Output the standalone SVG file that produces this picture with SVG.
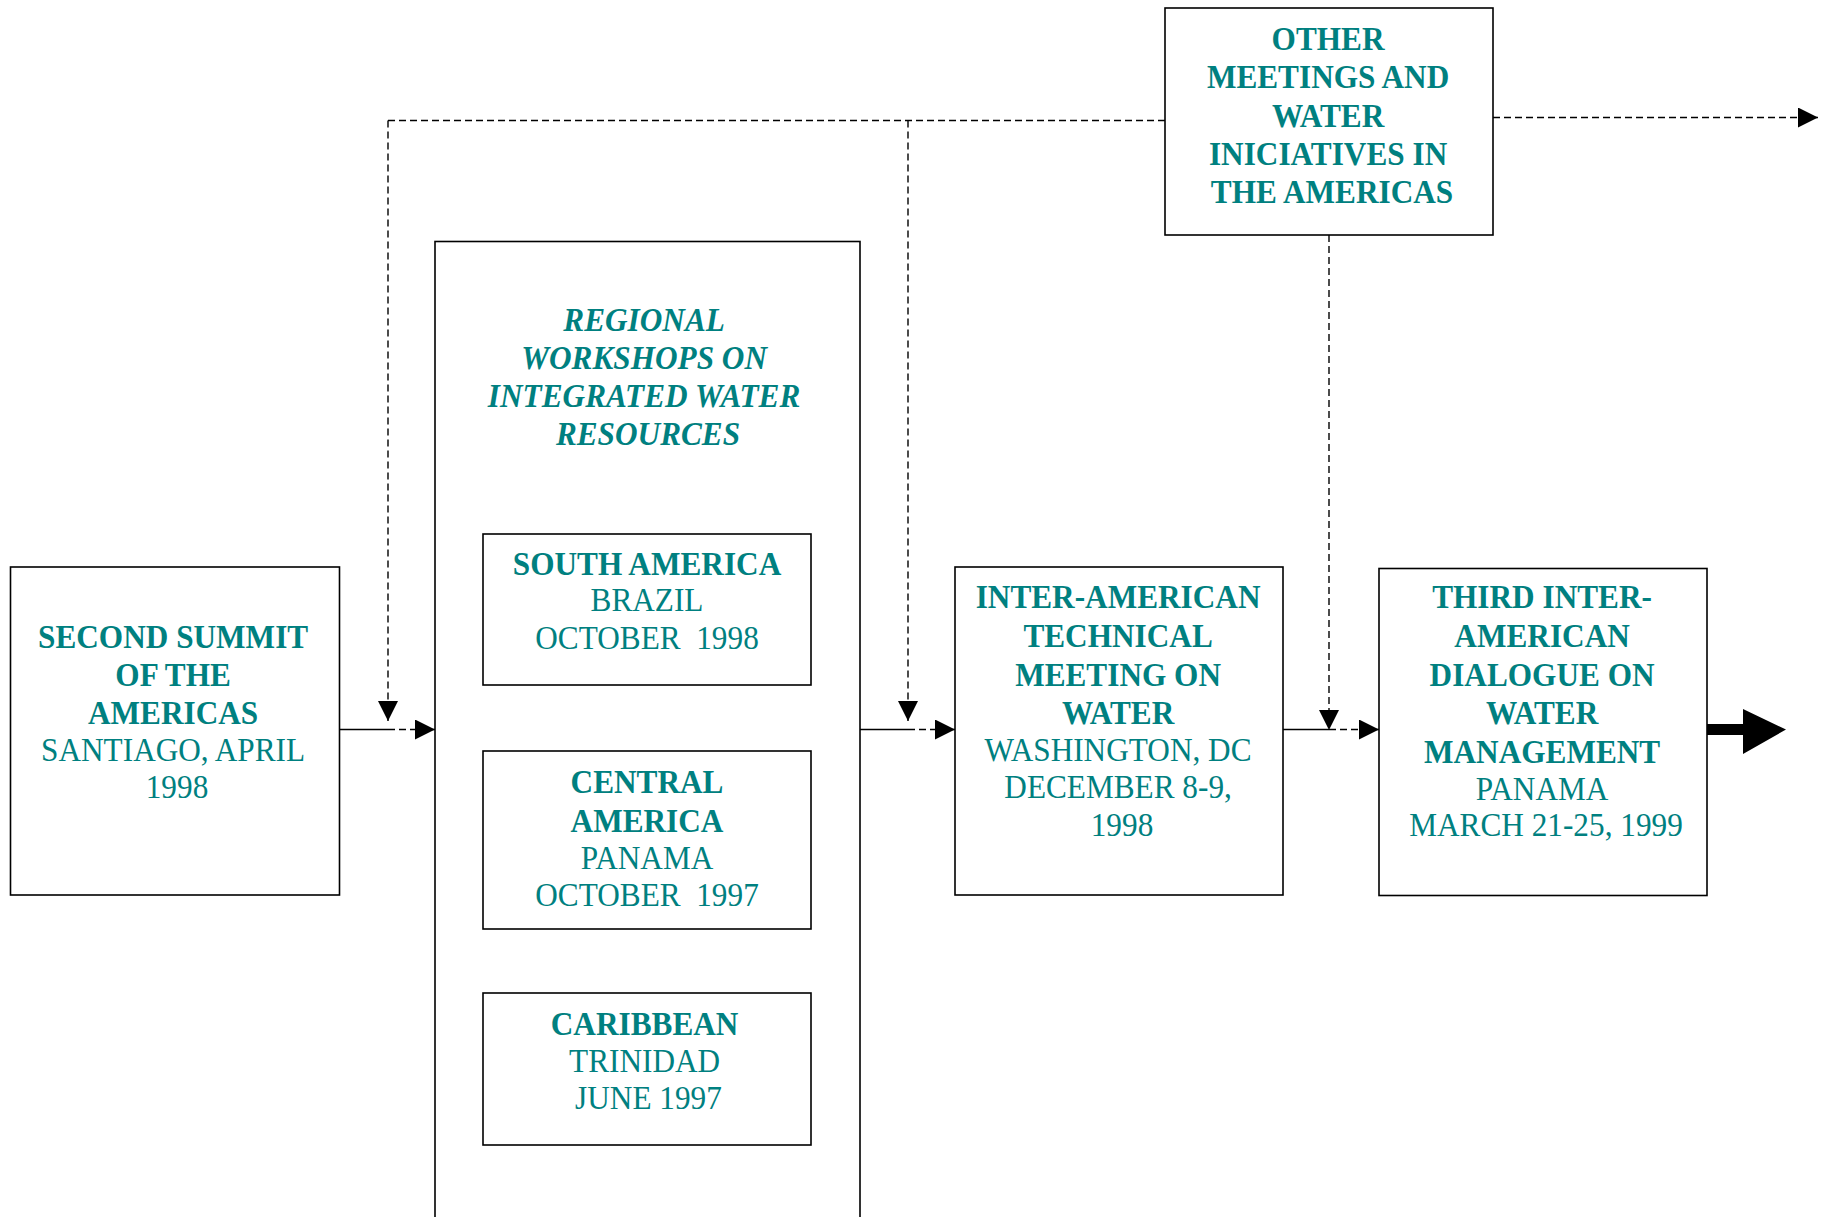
<svg xmlns="http://www.w3.org/2000/svg" width="1821" height="1217" viewBox="0 0 1821 1217">
<style>
.box{fill:#fff;stroke:#000;stroke-width:1.6}
.t{font-family:"Liberation Serif","Times New Roman",serif;font-size:34px;fill:#008080;text-anchor:middle}
.b{font-weight:bold}
.bi{font-weight:bold;font-style:italic}
.s{fill:none;stroke:#000;stroke-width:1.4}
.d{fill:none;stroke:#000;stroke-width:1.4;stroke-dasharray:7 4}
</style>
<defs>
<marker id="ah" viewBox="0 0 20 20" refX="20" refY="10" markerWidth="21" markerHeight="20" markerUnits="userSpaceOnUse" orient="auto">
<path d="M0,0 L20,10 L0,20 z" fill="#000"/>
</marker>
</defs>
<rect width="1821" height="1217" fill="#fff"/>
<g id="n-second">
<rect class="box" x="10.5" y="567" width="329" height="328"/>
<text class="t" transform="translate(177 0) scale(0.92 1)">
<tspan class="b" x="0" y="648">SECOND SUMMIT</tspan>
<tspan class="b" x="0" y="686">OF THE</tspan>
<tspan class="b" x="0" y="724">AMERICAS</tspan>
<tspan x="0" y="761">SANTIAGO, APRIL</tspan>
<tspan x="0" y="798">1998</tspan>
</text>
</g>
<g id="n-workshops">
<rect class="box" x="435" y="241.5" width="425" height="1000"/>
<text class="t" transform="translate(648 0) scale(0.92 1)">
<tspan class="bi" x="0" y="331">REGIONAL</tspan>
<tspan class="bi" x="0" y="369">WORKSHOPS ON</tspan>
<tspan class="bi" x="0" y="407">INTEGRATED WATER</tspan>
<tspan class="bi" x="0" y="445">RESOURCES</tspan>
</text>
</g>
<g id="n-south">
<rect class="box" x="483" y="534" width="328" height="151"/>
<text class="t" xml:space="preserve" transform="translate(647 0) scale(0.92 1)"><tspan class="b" x="0" y="575.5">SOUTH AMERICA</tspan><tspan x="0" y="611.5">BRAZIL</tspan><tspan x="0" y="649">OCTOBER  1998</tspan></text>
</g>
<g id="n-central">
<rect class="box" x="483" y="751" width="328" height="178"/>
<text class="t" xml:space="preserve" transform="translate(647 0) scale(0.92 1)"><tspan class="b" x="0" y="793">CENTRAL</tspan><tspan class="b" x="0" y="832">AMERICA</tspan><tspan x="0" y="869">PANAMA</tspan><tspan x="0" y="906">OCTOBER  1997</tspan></text>
</g>
<g id="n-caribbean">
<rect class="box" x="483" y="993" width="328" height="152"/>
<text class="t" transform="translate(648.5 0) scale(0.92 1)">
<tspan class="b" x="0" y="1035.5">CARIBBEAN</tspan>
<tspan x="0" y="1072.5">TRINIDAD</tspan>
<tspan x="0" y="1109.5">JUNE 1997</tspan>
</text>
</g>
<g id="n-technical">
<rect class="box" x="955" y="567" width="328" height="328"/>
<text class="t" transform="translate(1122 0) scale(0.92 1)">
<tspan class="b" x="0" y="608.5">INTER-AMERICAN</tspan>
<tspan class="b" x="0" y="647.5">TECHNICAL</tspan>
<tspan class="b" x="0" y="686">MEETING ON</tspan>
<tspan class="b" x="0" y="724">WATER</tspan>
<tspan x="0" y="761">WASHINGTON, DC</tspan>
<tspan x="0" y="798.5">DECEMBER 8-9,</tspan>
<tspan x="0" y="836">1998</tspan>
</text>
</g>
<g id="n-third">
<rect class="box" x="1379" y="568.5" width="328" height="327"/>
<text class="t" transform="translate(1546 0) scale(0.92 1)">
<tspan class="b" x="0" y="608.5">THIRD INTER-</tspan>
<tspan class="b" x="0" y="647.5">AMERICAN</tspan>
<tspan class="b" x="0" y="686">DIALOGUE ON</tspan>
<tspan class="b" x="0" y="724">WATER</tspan>
<tspan class="b" x="0" y="763">MANAGEMENT</tspan>
<tspan x="0" y="800">PANAMA</tspan>
<tspan x="0" y="836">MARCH 21-25, 1999</tspan>
</text>
</g>
<g id="n-other">
<rect class="box" x="1165" y="8" width="328" height="227"/>
<text class="t" transform="translate(1332 0) scale(0.92 1)">
<tspan class="b" x="0" y="50.5">OTHER</tspan>
<tspan class="b" x="0" y="88.5">MEETINGS AND</tspan>
<tspan class="b" x="0" y="127.5">WATER</tspan>
<tspan class="b" x="0" y="165.5">INICIATIVES IN</tspan>
<tspan class="b" x="0" y="203">THE AMERICAS</tspan>
</text>
</g>
<g id="connectors">
<path class="d" d="M1165,120.5 H388"/>
<path class="d" d="M388,120.5 V721" marker-end="url(#ah)"/>
<path class="d" d="M908,120.5 V721" marker-end="url(#ah)"/>
<path class="d" d="M1329,235 V730" marker-end="url(#ah)"/>
<path class="d" d="M1493,117.5 H1818" marker-end="url(#ah)"/>
<path class="s" d="M339,729.5 H388"/>
<path class="d" d="M388,729.5 H435" marker-end="url(#ah)"/>
<path class="s" d="M860,729.5 H908"/>
<path class="d" d="M908,729.5 H955" marker-end="url(#ah)"/>
<path class="s" d="M1283,729.5 H1329"/>
<path class="d" d="M1329,729.5 H1379" marker-end="url(#ah)"/>
<polygon points="1707,724 1743,724 1743,709 1786,729.5 1743,754 1743,735 1707,735" fill="#000"/>
</g>
</svg>
